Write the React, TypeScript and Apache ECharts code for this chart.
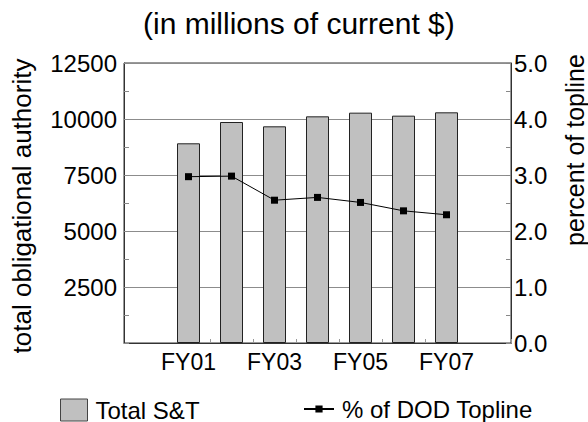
import React, { useEffect, useRef } from "react";
import * as echarts from "echarts";

const categories = ["FY00", "FY01", "FY02", "FY03", "FY04", "FY05", "FY06", "FY07", "FY08"];
const totalST = [null, 8915, 9866, 9673, 10119, 10283, 10149, 10298, null];
const pctTopline = [null, 2.97, 2.98, 2.55, 2.6, 2.51, 2.36, 2.29, null];
const leftTicks = { min: 0, max: 12500, interval: 2500 };
const rightTicks = { min: 0, max: 5, interval: 1 };

const FONT = "'Liberation Sans', Arial, sans-serif";

export default function App() {
  const ref = useRef<HTMLDivElement>(null);
  useEffect(() => {
    if (!ref.current) return;
    const chart = echarts.init(ref.current, null, { renderer: "svg" });
    chart.setOption({
      animation: false,
      backgroundColor: "#fff",
      textStyle: { fontFamily: FONT, color: "#000" },
      title: {
        text: "(in millions of current $)",
        left: 143,
        top: 8,
        padding: 0,
        textStyle: { fontFamily: FONT, fontSize: 30, fontWeight: "normal", color: "#000" },
      },
      grid: {
        left: 124,
        right: 77,
        top: 63,
        bottom: 79,
        show: true,
        borderColor: "#333",
        borderWidth: 1,
      },
      legend: [
        {
          data: [{ name: "Total S&T", icon: "rect" }],
          left: 60,
          top: 398,
          padding: 0,
          itemWidth: 27,
          itemHeight: 22,
          itemGap: 10,
          itemStyle: { borderColor: "#444", borderWidth: 1 },
          textStyle: { fontFamily: FONT, fontSize: 24, color: "#000", padding: [0, 0, 0, 3] },
        },
        {
          data: ["% of DOD Topline"],
          left: 303,
          top: 397,
          padding: 0,
          itemWidth: 30,
          itemHeight: 9,
          itemGap: 10,
          textStyle: { fontFamily: FONT, fontSize: 24, color: "#000", padding: [0, 0, 0, 3] },
        },
      ],
      xAxis: {
        type: "category",
        data: categories,
        boundaryGap: true,
        axisLine: { lineStyle: { color: "#333", width: 1 } },
        axisTick: {
          show: true,
          inside: true,
          length: 4,
          interval: (i: number) => i >= 2 && i <= 7,
          lineStyle: { color: "#999" },
        },
        axisLabel: {
          interval: (i: number) => i % 2 === 1,
          fontFamily: FONT,
          fontSize: 23,
          color: "#000",
          margin: 7,
        },
        splitLine: { show: false },
      },
      yAxis: [
        {
          type: "value",
          ...leftTicks,
          position: "left",
          axisLine: { show: true, lineStyle: { color: "#333" } },
          axisTick: { show: true, inside: true, length: 5, lineStyle: { color: "#888" } },
          minorTick: { show: true, splitNumber: 2, length: 5, lineStyle: { color: "#888" } },
          axisLabel: {
            fontFamily: FONT,
            fontSize: 24,
            color: "#000",
            margin: 7,
            showMinLabel: false,
            formatter: (v: number) => (v === 0 ? "" : String(v)),
          },
          splitLine: { show: true, lineStyle: { color: "#8c8c8c", width: 1 } },
        },
        {
          type: "value",
          ...rightTicks,
          position: "right",
          axisLine: { show: true, lineStyle: { color: "#333" } },
          axisTick: { show: true, inside: true, length: 5, lineStyle: { color: "#888" } },
          minorTick: { show: true, splitNumber: 2, length: 5, lineStyle: { color: "#888" } },
          axisLabel: {
            fontFamily: FONT,
            fontSize: 24,
            color: "#000",
            margin: 3,
            formatter: (v: number) => v.toFixed(1),
          },
          splitLine: { show: false },
        },
      ],
      series: [
        {
          name: "Total S&T",
          type: "bar",
          data: totalST,
          yAxisIndex: 0,
          barWidth: 23,
          itemStyle: { color: "#c0c0c0", borderColor: "#222", borderWidth: 1 },
        },
        {
          name: "% of DOD Topline",
          type: "line",
          data: pctTopline,
          yAxisIndex: 1,
          symbol: "rect",
          symbolSize: 7,
          lineStyle: { color: "#000", width: 1 },
          itemStyle: { color: "#000" },
        },
      ],
      graphic: [
        {
          type: "text",
          x: 22,
          y: 206,
          rotation: Math.PI / 2,
          style: {
            text: "total obligational authority",
            fontFamily: FONT,
            fontSize: 26,
            fill: "#000",
            align: "center",
            verticalAlign: "middle",
          },
        },
        {
          type: "text",
          x: 575,
          y: 150,
          rotation: Math.PI / 2,
          style: {
            text: "percent of topline",
            fontFamily: FONT,
            fontSize: 25,
            fill: "#000",
            align: "center",
            verticalAlign: "middle",
          },
        },
      ],
    });
    return () => chart.dispose();
  }, []);
  return <div ref={ref} style={{ width: 588, height: 422, position: "absolute", left: 0, top: 0 }} />;
}
